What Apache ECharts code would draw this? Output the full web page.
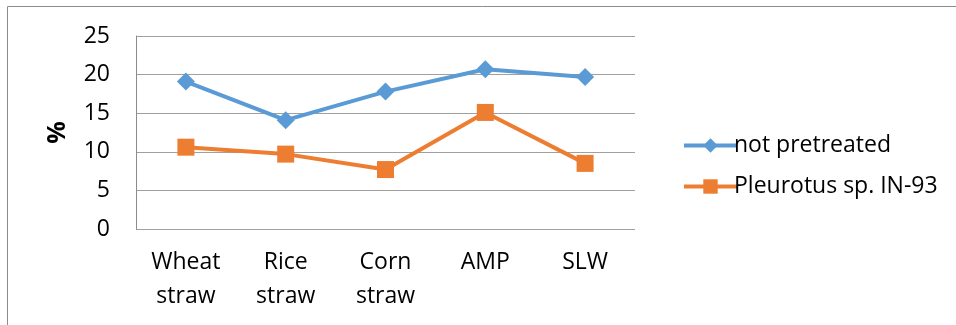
<!DOCTYPE html>
<html><head><meta charset="utf-8">
<script src="https://cdn.jsdelivr.net/npm/echarts@6/dist/echarts.min.js"></script>
<style>html,body{margin:0;padding:0;background:#fff}#c{width:956px;height:325px}</style>
</head><body><div id="c"></div>
<script>
const categories = ['Wheat\nstraw', 'Rice\nstraw', 'Corn\nstraw', 'AMP', 'SLW'];
const notPretreated = [19.1, 14.1, 17.8, 20.7, 19.7];
const pleurotus = [10.6, 9.7, 7.7, 15.1, 8.5];
const yTicks = [0, 5, 10, 15, 20, 25];
const seriesNames = ['not pretreated', 'Pleurotus sp. IN-93'];

const FONT = 'Open Sans';
const chart = echarts.init(document.getElementById('c'));
chart.setOption({
  animation: false,
  textStyle: { fontFamily: FONT },
  graphic: [{
    type: 'rect', shape: { x: 7.5, y: 6.5, width: 1000, height: 400 },
    style: { fill: 'none', stroke: '#8c8c8c', lineWidth: 1 }, silent: true
  }],
  grid: { left: 136, top: 36, width: 499, height: 193, containLabel: false },
  legend: {
    orient: 'vertical', left: 677, top: 129, itemGap: 18,
    itemWidth: 53, itemHeight: 18,
    lineStyle: { width: 4 },
    textStyle: { fontSize: 23, color: '#000', fontFamily: FONT, padding: [0, 0, 0, -8] },
    data: seriesNames
  },
  xAxis: {
    type: 'category', data: categories, boundaryGap: true,
    axisLine: { show: false }, axisTick: { show: false },
    axisLabel: { fontSize: 23, color: '#000', lineHeight: 34, margin: 16, interval: 0 }
  },
  yAxis: {
    type: 'value', min: yTicks[0], max: yTicks[yTicks.length - 1], interval: 5,
    name: '%', nameLocation: 'middle', nameGap: 66, nameRotate: 90,
    nameTextStyle: { fontSize: 25, fontWeight: 'bold', color: '#000' },
    axisLine: { show: true, lineStyle: { color: '#8c8c8c', width: 1 } },
    axisTick: { show: false },
    axisLabel: { fontSize: 23, color: '#000', margin: 26 },
    splitLine: { lineStyle: { color: '#a0a0a0', width: 1 } }
  },
  series: [
    { name: seriesNames[0], type: 'line', data: notPretreated, symbol: 'diamond', symbolSize: 18,
      lineStyle: { color: '#5b9bd5', width: 4 }, itemStyle: { color: '#5b9bd5' } },
    { name: seriesNames[1], type: 'line', data: pleurotus, symbol: 'rect', symbolSize: 17,
      lineStyle: { color: '#ed7d31', width: 4 }, itemStyle: { color: '#ed7d31' } }
  ]
});
</script></body></html>
